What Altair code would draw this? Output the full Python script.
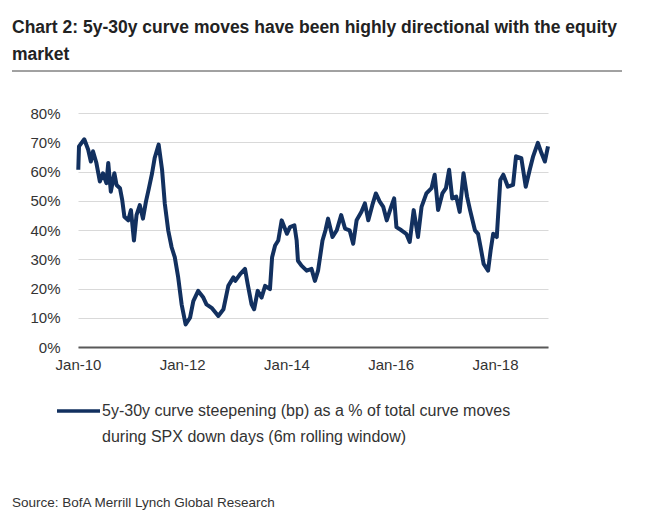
import altair as alt
import pandas as pd

# ---- data ----
dates = [
    "2010-01-03", "2010-01-08", "2010-02-14", "2010-03-13", "2010-04-01", "2010-04-16",
    "2010-05-10", "2010-06-03", "2010-06-25", "2010-07-19", "2010-08-01", "2010-08-19",
    "2010-09-13", "2010-09-28", "2010-10-22", "2010-11-07", "2010-11-22", "2010-12-19",
    "2011-01-07", "2011-01-28", "2011-02-15", "2011-03-10", "2011-04-01", "2011-04-22",
    "2011-05-13", "2011-06-04", "2011-06-22", "2011-07-20", "2011-08-13", "2011-09-01",
    "2011-09-25", "2011-10-19", "2011-11-10", "2011-12-04", "2011-12-28", "2012-01-25",
    "2012-02-25", "2012-03-19", "2012-04-22", "2012-05-28", "2012-06-19", "2012-07-25",
    "2012-09-10", "2012-10-16", "2012-11-19", "2012-12-25",
    "2013-01-07", "2013-02-10", "2013-03-16", "2013-04-04", "2013-05-01", "2013-05-19",
    "2013-06-13", "2013-07-10", "2013-08-04", "2013-09-07", "2013-09-22", "2013-10-13",
    "2013-11-04", "2013-11-28", "2014-01-04", "2014-01-25", "2014-02-25", "2014-03-13",
    "2014-03-22", "2014-04-16", "2014-05-22", "2014-06-25", "2014-07-19", "2014-08-10",
    "2014-09-10", "2014-10-01", "2014-10-19", "2014-11-19", "2014-12-19", "2015-01-19",
    "2015-02-15", "2015-03-19", "2015-04-13", "2015-05-07", "2015-06-10", "2015-07-04",
    "2015-07-28", "2015-08-25", "2015-09-19", "2015-10-16", "2015-11-10", "2015-12-04",
    "2016-01-04", "2016-01-25",
    "2016-02-10", "2016-03-16", "2016-04-19", "2016-05-13", "2016-06-10", "2016-07-10",
    "2016-08-04", "2016-09-07", "2016-10-13", "2016-11-04", "2016-11-28", "2016-12-28",
    "2017-01-22", "2017-02-13", "2017-03-07", "2017-04-04", "2017-04-28", "2017-05-25",
    "2017-06-19", "2017-07-10", "2017-08-13", "2017-09-04", "2017-09-22", "2017-10-13",
    "2017-11-13", "2017-12-01", "2017-12-19", "2018-01-13", "2018-02-07", "2018-02-28",
    "2018-04-01", "2018-05-07", "2018-05-28", "2018-07-04", "2018-08-04", "2018-09-01",
    "2018-09-25", "2018-10-28", "2018-11-22", "2018-12-16", "2019-01-07",
]
values = [
    60.6, 68.6, 71.0, 67.5, 63.4, 66.9,
    62.9, 56.6, 59.4, 56.0, 62.9, 53.1,
    59.4, 55.4, 54.3, 50.2, 44.5, 43.3,
    46.8, 36.4, 45.1, 48.5, 43.9, 49.7,
    54.3, 59.4, 64.6, 69.2, 60.6, 49.1,
    39.9, 34.1, 30.7, 23.8, 14.6, 7.7,
    10.0, 15.7, 19.2, 16.9, 14.6, 13.4,
    10.6, 12.9, 20.9, 23.8,
    22.6, 24.9, 26.7, 21.5, 14.6, 12.9,
    19.2, 16.9, 20.9, 19.8, 30.7, 34.7,
    36.4, 43.3, 38.7, 41.0, 41.6, 36.4,
    29.5, 27.8, 26.1, 26.7, 22.6, 26.1,
    36.4, 39.9, 43.9, 37.6, 39.9, 45.1,
    40.5, 39.9, 35.3, 43.3, 46.2, 49.1,
    43.3, 48.5, 52.5, 49.7, 47.9, 43.3,
    47.9, 50.8,
    41.0, 39.9, 38.7, 35.9, 46.8, 37.6,
    47.9, 52.5, 54.3, 58.9, 46.8, 52.5,
    54.3, 60.6, 50.8, 51.4, 46.2, 59.4,
    51.4, 46.8, 39.9, 38.7, 34.1, 28.4,
    26.1, 33.0, 38.7, 37.6, 57.1, 58.9,
    54.8, 55.4, 65.2, 64.6, 54.8, 60.6,
    65.2, 69.8, 66.3, 63.4, 68.6,
]
y_ticks = [0, 10, 20, 30, 40, 50, 60, 70, 80]
x_tick_years = [2010, 2012, 2014, 2016, 2018]

title_lines = ["Chart 2: 5y-30y curve moves have been highly directional with the equity", "market"]
legend_lines = ["5y-30y curve steepening (bp) as a % of total curve moves",
                "during SPX down days (6m rolling window)"]
source_text = "Source: BofA Merrill Lynch Global Research"

NAVY = "#12305f"
FONT = "Liberation Sans"

df = pd.DataFrame({"date": dates, "value": values})

line = alt.Chart(df).mark_line(color=NAVY, strokeWidth=4, strokeJoin="round").encode(
    x=alt.X(
        "date:T",
        scale=alt.Scale(domain=[alt.DateTime(year=2010, month=1, date=1),
                                alt.DateTime(year=2019, month=1, date=7)]),
        axis=alt.Axis(
            values=[alt.DateTime(year=y, month=1, date=1) for y in x_tick_years],
            format="%b-%y", title=None, grid=False, ticks=False, labelFlush=False,
            domain=True, domainColor="#595959", domainWidth=2,
            labelFont=FONT, labelFontSize=15, labelColor="#333333", labelPadding=10,
        ),
    ),
    y=alt.Y(
        "value:Q",
        scale=alt.Scale(domain=[0, 80]),
        axis=alt.Axis(
            values=y_ticks, labelExpr="datum.value + '%'", title=None,
            grid=True, gridColor="#d9d9d9", gridWidth=1, domain=False, ticks=False,
            labelFont=FONT, labelFontSize=15, labelColor="#333333", labelPadding=18,
        ),
    ),
)

one = pd.DataFrame({"k": [0]})

def txt(s, x, y, size, bold=False, color="#222222"):
    return alt.Chart(one).mark_text(
        text=s, align="left", baseline="middle", font=FONT, fontSize=size,
        fontWeight="bold" if bold else "normal", color=color,
    ).encode(x=alt.value(x), y=alt.value(y))

title1 = txt(title_lines[0], -66, -85, 17.5, bold=True)
title2 = txt(title_lines[1], -66, -58, 17.5, bold=True)
sep = alt.Chart(one).mark_rule(color="#444444", strokeWidth=1).encode(
    x=alt.value(-66), x2=alt.value(544), y=alt.value(-42))
leg_sym = alt.Chart(one).mark_rule(color=NAVY, strokeWidth=3.5).encode(
    x=alt.value(-21), x2=alt.value(22), y=alt.value(298))
leg1 = txt(legend_lines[0], 24, 298, 16, color="#333333")
leg2 = txt(legend_lines[1], 24, 324, 16, color="#333333")
src = txt(source_text, -66, 390, 13.5, color="#333333")

chart = alt.layer(line, title1, title2, sep, leg_sym, leg1, leg2, src).properties(
    width=470, height=234,
    autosize=alt.AutoSizeParams(type="none"),
    padding={"left": 70, "top": 105, "right": 106, "bottom": 172},
    background="white",
).configure_view(stroke=None)

chart.save("out.html", embed_options={"renderer": "svg", "actions": False})
